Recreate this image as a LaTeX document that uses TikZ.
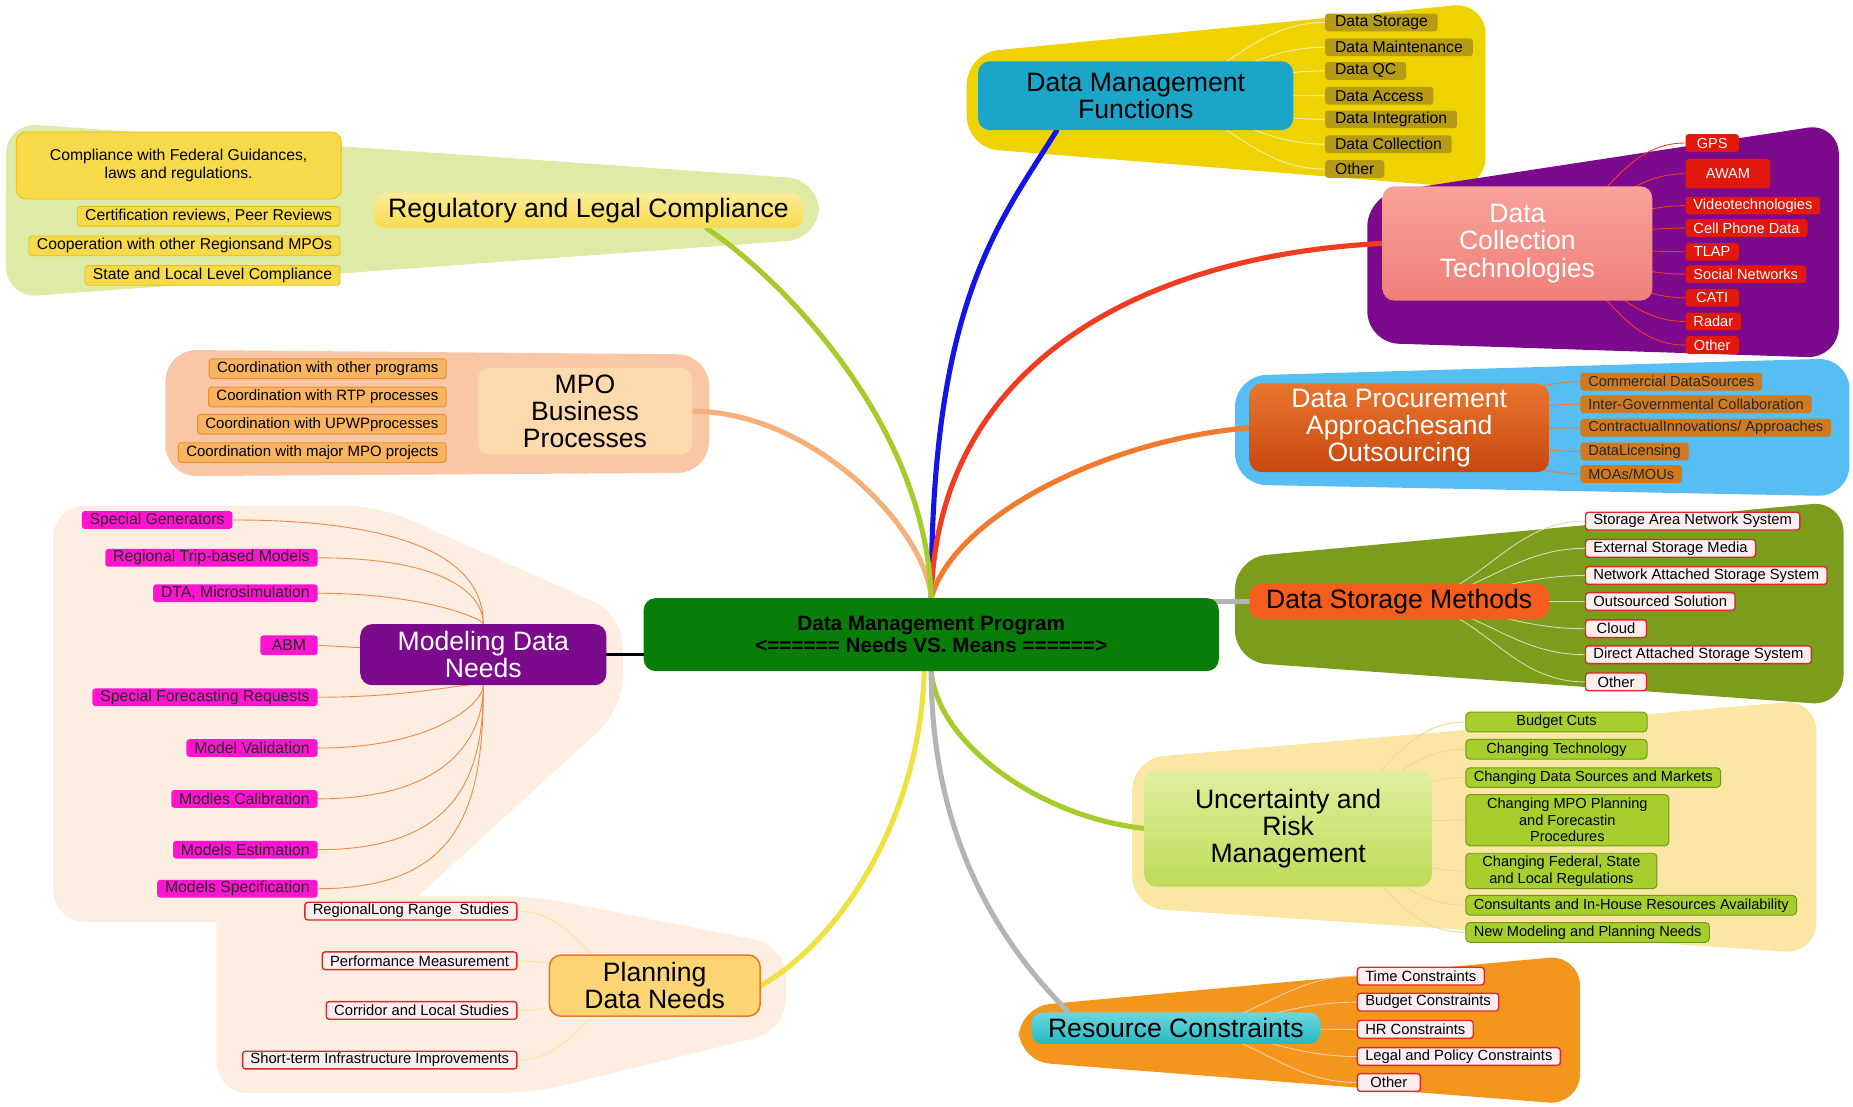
\documentclass[tikz,border=0pt]{standalone}
\usepackage{fontspec}
\setmainfont{Liberation Sans}
\usepackage{xcolor}
\usetikzlibrary{calc}

\definecolor{dmfgold}{HTML}{EFD300}
\definecolor{dmfcyan}{HTML}{1BA5C8}
\definecolor{dmfolive}{HTML}{B69B14}
\definecolor{dmftwig}{HTML}{F6EDB0}
\definecolor{dctpurple}{HTML}{7C0A8C}
\definecolor{dctsalmon}{HTML}{F07F78}
\definecolor{dctsalmontop}{HTML}{F8A29A}
\definecolor{dctred}{HTML}{E2180C}
\definecolor{dpablue}{HTML}{56BEF2}
\definecolor{dpaorange}{HTML}{C9470F}
\definecolor{dpaorangetop}{HTML}{E8762E}
\definecolor{dpabronze}{HTML}{D07A20}
\definecolor{dsmolive}{HTML}{7C9C1C}
\definecolor{dsmorange}{HTML}{F45E1C}
\definecolor{dsmtwig}{HTML}{D6DFB8}
\definecolor{itempink}{HTML}{FCEDEF}
\definecolor{itemred}{HTML}{E32626}
\definecolor{urmpale}{HTML}{FCE6A6}
\definecolor{urmgreen}{HTML}{BEDC58}
\definecolor{urmgreentop}{HTML}{E0EFA0}
\definecolor{urmitem}{HTML}{A6CF2E}
\definecolor{urmedge}{HTML}{6F9A14}
\definecolor{urmtwig}{HTML}{F0D890}
\definecolor{rcorange}{HTML}{F4951C}
\definecolor{rcteal}{HTML}{22B9C4}
\definecolor{rctealtop}{HTML}{6FD6DC}
\definecolor{rctwig}{HTML}{EFD0B0}
\definecolor{rlcgreen}{HTML}{DDEBA6}
\definecolor{rlcyellow}{HTML}{F7DA4A}
\definecolor{rlcyellowtop}{HTML}{FBEC9A}
\definecolor{rlcedge}{HTML}{E6BE10}
\definecolor{mpopeach}{HTML}{F9C6A6}
\definecolor{mpocream}{HTML}{FDD9AE}
\definecolor{mpoitem}{HTML}{F9B462}
\definecolor{mpoedge}{HTML}{EE8E2A}
\definecolor{mdnpale}{HTML}{FDEEE1}
\definecolor{mdnmagenta}{HTML}{FF14CF}
\definecolor{mdntwig}{HTML}{F08848}
\definecolor{pdnyellow}{HTML}{FDD574}
\definecolor{pdnedge}{HTML}{EC7A1E}
\definecolor{pdntwig}{HTML}{F3EB9A}
\definecolor{hubgreen}{HTML}{087E08}
\definecolor{brblue}{HTML}{1414E6}
\definecolor{brred}{HTML}{F23C22}
\definecolor{brorange}{HTML}{F27A2C}
\definecolor{brpeach}{HTML}{F7B07A}
\definecolor{brlime}{HTML}{A8CB2C}
\definecolor{brgrey}{HTML}{B4B4B4}
\definecolor{bryellow}{HTML}{F0E040}

\pgfdeclarelayer{back}
\pgfdeclarelayer{mid}
\pgfsetlayers{back,mid,main}

\tikzset{
    hub-box/.style = {fill=hubgreen, rectangle, rounded corners=6pt, align=center, minimum width=292pt, minimum height=37pt, font=\fontsize{10.5}{11.5}\selectfont\bfseries},
    topic-box/.style = {rectangle, rounded corners=6pt, align=center, inner sep=2pt, font=\fontsize{13.5}{13.8}\selectfont},
    item-box/.style = {rectangle, rounded corners=1.5pt, inner xsep=4pt, inner ysep=0.5pt, minimum height=9pt, align=center, font=\fontsize{7.4}{8.4}\selectfont},
    item-west/.style = {item-box, anchor=west},
    item-east/.style = {item-box, anchor=east},
    dmf-item/.style = {item-west, fill=dmfolive, inner xsep=5pt, font=\fontsize{8}{9}\selectfont},
    dct-item/.style = {item-west, fill=dctred, text=white, minimum width=27pt},
    dpa-item/.style = {item-west, fill=dpabronze, text=black!85},
    white-item/.style = {item-box, fill=itempink, draw=itemred, line width=0.7pt, font=\fontsize{7.5}{8.5}\selectfont},
    urm-item/.style = {item-west, fill=urmitem, draw=urmedge, line width=0.5pt, minimum height=10pt, rounded corners=2pt},
    rlc-item/.style = {item-east, fill=rlcyellow, draw=rlcedge, line width=0.4pt, minimum height=10pt, font=\fontsize{8}{9}\selectfont},
    mpo-item/.style = {item-east, fill=mpoitem, draw=mpoedge, line width=0.5pt, minimum height=10pt, font=\fontsize{7.6}{8.6}\selectfont},
    mdn-item/.style = {item-east, fill=mdnmagenta, text=black!85, font=\fontsize{8}{9}\selectfont},
    branch/.style = {line width=2.6pt, line cap=round},
    twig/.style = {line width=0.45pt, out=0, in=180},
}

\begin{document}
\begin{tikzpicture}[x=0.6pt, y=-0.6pt]
\useasboundingbox (0,0) rectangle (1568,936);

% coloured areas behind each group
\begin{pgfonlayer}{back}
\fill[mdnpale, rounded corners=16pt] (45,428) -- (320,428) -- (527,520) -- (527,600) -- (330,780) -- (45,780) -- cycle;
\fill[mdnpale, rounded corners=16pt] (183,758) -- (450,758) -- (665,800) -- (665,872) -- (450,925) -- (183,925) -- cycle;
\fill[rlcgreen, rounded corners=16pt] (5,104) -- (693,152) -- (693,202) -- (5,252) -- cycle;
\fill[mpopeach, rounded corners=16pt] (140,296) -- (600,300) -- (600,400) -- (140,403) -- cycle;
\fill[dmfgold, rounded corners=16pt] (818,45) -- (1257,2) -- (1257,160) -- (818,125) -- cycle;
\fill[dctpurple, rounded corners=16pt] (1157,165) -- (1556,104) -- (1556,303) -- (1157,290) -- cycle;
\fill[dpablue, rounded corners=16pt] (1045,318) -- (1565,303) -- (1565,420) -- (1045,410) -- cycle;
\fill[urmpale, rounded corners=16pt] (958,642) -- (1537,592) -- (1537,807) -- (958,768) -- cycle;
\fill[dsmolive, rounded corners=16pt] (1045,472) -- (1560,424) -- (1560,597) -- (1045,560) -- cycle;
\fill[rcorange, rounded corners=16pt] (862,852) -- (1337,808) -- (1337,935) -- (862,898) -- cycle;
\end{pgfonlayer}

\node[hub-box] (hub) at (788,537) {Data Management Program\\<====== Needs VS. Means ======>};

% data management functions
\node[topic-box, fill=dmfcyan, minimum width=160pt, minimum height=35pt] (dmf) at (961,81) {Data Management\\Functions};
\node[dmf-item] (dmf-storage) at (1121,19) {Data Storage};
\node[dmf-item] (dmf-maint) at (1121,40) {Data Maintenance};
\node[dmf-item] (dmf-qc) at (1121,60) {Data QC};
\node[dmf-item] (dmf-access) at (1121,81) {Data Access};
\node[dmf-item] (dmf-integr) at (1121,101) {Data Integration};
\node[dmf-item] (dmf-collect) at (1121,122) {Data Collection};
\node[dmf-item] (dmf-other) at (1121,143) {Other};

% data collection technologies
\node[topic-box, top color=dctsalmontop, bottom color=dctsalmon, text=white, minimum width=137pt, minimum height=58pt] (dct) at (1284,206) {Data\\Collection\\Technologies};
\node[dct-item] (dct-gps) at (1426,121) {GPS};
\node[dct-item, minimum width=43pt, minimum height=15pt] (dct-awam) at (1426,147) {AWAM};
\node[dct-item] (dct-video) at (1426,174) {Videotechnologies};
\node[dct-item] (dct-cell) at (1426,193) {Cell Phone Data};
\node[dct-item] (dct-tlap) at (1426,213) {TLAP};
\node[dct-item] (dct-social) at (1426,232) {Social Networks};
\node[dct-item] (dct-cati) at (1426,252) {CATI};
\node[dct-item] (dct-radar) at (1426,272) {Radar};
\node[dct-item] (dct-other) at (1426,292) {Other};

% data procurement
\node[topic-box, top color=dpaorangetop, bottom color=dpaorange, text=white, minimum width=152pt, minimum height=45pt] (dpa) at (1184,362) {Data Procurement\\Approachesand\\Outsourcing};
\node[dpa-item] (dpa-comm) at (1337,323) {Commercial DataSources};
\node[dpa-item] (dpa-inter) at (1337,342) {Inter-Governmental Collaboration};
\node[dpa-item] (dpa-contr) at (1337,362) {ContractualInnovations/ Approaches};
\node[dpa-item] (dpa-lic) at (1337,382) {DataLicensing};
\node[dpa-item] (dpa-moa) at (1337,401) {MOAs/MOUs};

% data storage methods
\node[topic-box, fill=dsmorange, minimum width=152pt, minimum height=18pt] (dsm) at (1184,509) {Data Storage Methods};
\node[white-item, anchor=west] (dsm-san) at (1341,441) {Storage Area Network System};
\node[white-item, anchor=west] (dsm-ext) at (1341,464) {External Storage Media};
\node[white-item, anchor=west] (dsm-nas) at (1341,487) {Network Attached Storage System};
\node[white-item, anchor=west] (dsm-out) at (1341,509) {Outsourced Solution};
\node[white-item, anchor=west, minimum width=31pt] (dsm-cloud) at (1341,532) {Cloud};
\node[white-item, anchor=west] (dsm-das) at (1341,554) {Direct Attached Storage System};
\node[white-item, anchor=west, minimum width=31pt] (dsm-other) at (1341,577) {Other};

% uncertainty and risk
\node[topic-box, top color=urmgreentop, bottom color=urmgreen, minimum width=146pt, minimum height=59pt] (urm) at (1090,701) {Uncertainty and\\Risk\\Management};
\node[urm-item, minimum width=92pt] (urm-budget) at (1240,611) {Budget Cuts};
\node[urm-item, minimum width=92pt] (urm-tech) at (1240,634) {Changing Technology};
\node[urm-item] (urm-sources) at (1240,658) {Changing Data Sources and Markets};
\node[urm-item, minimum width=103pt, minimum height=26pt] (urm-mpo) at (1240,694) {Changing MPO Planning\\and Forecastin\\Procedures};
\node[urm-item, minimum width=97pt, minimum height=18pt] (urm-regs) at (1240,737) {Changing Federal, State\\and Local Regulations};
\node[urm-item] (urm-consult) at (1240,766) {Consultants and In-House Resources Availability};
\node[urm-item] (urm-new) at (1240,789) {New Modeling and Planning Needs};

% resource constraints
\node[topic-box, top color=rctealtop, bottom color=rcteal, minimum width=147pt, minimum height=16pt] (rc) at (995,870) {Resource Constraints};
\node[white-item, anchor=west] (rc-time) at (1148,826) {Time Constraints};
\node[white-item, anchor=west] (rc-budget) at (1148,848) {Budget Constraints};
\node[white-item, anchor=west] (rc-hr) at (1148,871) {HR Constraints};
\node[white-item, anchor=west] (rc-legal) at (1148,894) {Legal and Policy Constraints};
\node[white-item, anchor=west, minimum width=32pt] (rc-other) at (1148,916) {Other};

% regulatory and legal compliance
\node[topic-box, top color=rlcyellowtop, bottom color=rlcyellow, minimum width=218pt, minimum height=18pt] (rlc) at (498,178) {Regulatory and Legal Compliance};
\node[rlc-item, minimum width=165pt, minimum height=34pt, rounded corners=5pt] (rlc-federal) at (289,140) {Compliance with Federal Guidances,\\laws and regulations.};
\node[rlc-item] (rlc-cert) at (288,183) {Certification reviews, Peer Reviews};
\node[rlc-item] (rlc-coop) at (288,208) {Cooperation with other Regionsand MPOs};
\node[rlc-item] (rlc-state) at (288,233) {State and Local Level Compliance};

% mpo business processes
\node[topic-box, fill=mpocream, minimum width=109pt, minimum height=44pt] (mpo) at (495,348) {MPO\\Business\\Processes};
\node[mpo-item] (mpo-prog) at (378,312) {Coordination with other programs};
\node[mpo-item] (mpo-rtp) at (378,336) {Coordination with RTP processes};
\node[mpo-item] (mpo-upwp) at (378,359) {Coordination with UPWPprocesses};
\node[mpo-item] (mpo-major) at (378,383) {Coordination with major MPO projects};

% modeling data needs
\node[topic-box, fill=dctpurple, text=white, minimum width=125pt, minimum height=31pt] (mdn) at (409,554) {Modeling Data\\Needs};
\node[mdn-item] (mdn-gen) at (197,440) {Special Generators};
\node[mdn-item] (mdn-trip) at (269,472) {Regional Trip-based Models};
\node[mdn-item] (mdn-dta) at (269,502) {DTA, Microsimulation};
\node[mdn-item, minimum width=29pt, minimum height=10pt] (mdn-abm) at (269,546) {ABM};
\node[mdn-item] (mdn-fore) at (269,590) {Special Forecasting Requests};
\node[mdn-item] (mdn-valid) at (269,633) {Model Validation};
\node[mdn-item] (mdn-calib) at (269,676) {Modles Calibration};
\node[mdn-item] (mdn-estim) at (269,719) {Models Estimation};
\node[mdn-item] (mdn-spec) at (269,752) {Models Specification};

% planning data needs
\node[topic-box, fill=pdnyellow, draw=pdnedge, line width=0.8pt, minimum width=107pt, minimum height=31pt] (pdn) at (554,834) {Planning\\Data Needs};
\node[white-item, anchor=east] (pdn-long) at (438,771) {RegionalLong Range\ \ Studies};
\node[white-item, anchor=east] (pdn-perf) at (438,813) {Performance Measurement};
\node[white-item, anchor=east] (pdn-corr) at (438,855) {Corridor and Local Studies};
\node[white-item, anchor=east] (pdn-short) at (438,897) {Short-term Infrastructure Improvements};

\begin{pgfonlayer}{mid}
% main branches
\draw[branch, brblue] (hub.north) .. controls +(0,-250) and +(-50,80) .. ($(dmf.south west)!0.25!(dmf.south east)$);
\draw[branch, brred] (hub.north) .. controls +(5,-200) and +(-200,10) .. (dct.west);
\draw[branch, brorange] (hub.north) .. controls +(20,-70) and +(-120,10) .. (dpa.west);
\draw[branch, brpeach] (hub.north) .. controls +(-5,-60) and +(100,0) .. (mpo.east);
\draw[branch, brlime] (hub.north) .. controls +(-5,-150) and +(60,40) .. ($(rlc.south west)!0.775!(rlc.south east)$);
\draw[branch, brgrey] (dsm.center) -- (dsm.center -| hub.center);
\draw[branch, black, line width=1.6pt] (mdn.center) -- (mdn.center -| hub.center);
\draw[branch, brlime] (hub.south) .. controls +(5,60) and +(-90,-10) .. (urm.west);
\draw[branch, brgrey] (hub.south) .. controls +(0,150) and +(-50,-50) .. ($(rc.north west)!0.13!(rc.north east)$);
\draw[branch, bryellow] ($(hub.south)+(-6,0)$) .. controls +(-3,120) and +(70,-40) .. (pdn.east);
% twigs of each group
\draw[twig, dmftwig] (dmf.center) to (dmf-storage.west) (dmf.center) to (dmf-maint.west) (dmf.center) to (dmf-qc.west) (dmf.center) to (dmf-access.west) (dmf.center) to (dmf-integr.west) (dmf.center) to (dmf-collect.west) (dmf.center) to (dmf-other.west);
\draw[twig, brred] (dct.center) to (dct-gps.west) (dct.center) to (dct-awam.west) (dct.center) to (dct-video.west) (dct.center) to (dct-cell.west) (dct.center) to (dct-tlap.west) (dct.center) to (dct-social.west) (dct.center) to (dct-cati.west) (dct.center) to (dct-radar.west) (dct.center) to (dct-other.west);
\draw[twig, brorange] (dpa.center) to (dpa-comm.west) (dpa.center) to (dpa-inter.west) (dpa.center) to (dpa-contr.west) (dpa.center) to (dpa-lic.west) (dpa.center) to (dpa-moa.west);
\draw[twig, dsmtwig] (dsm.center) to (dsm-san.west) (dsm.center) to (dsm-ext.west) (dsm.center) to (dsm-nas.west) (dsm.center) to (dsm-out.west) (dsm.center) to (dsm-cloud.west) (dsm.center) to (dsm-das.west) (dsm.center) to (dsm-other.west);
\draw[twig, urmtwig] (urm.center) to (urm-budget.west) (urm.center) to (urm-tech.west) (urm.center) to (urm-sources.west) (urm.center) to (urm-mpo.west) (urm.center) to (urm-regs.west) (urm.center) to (urm-consult.west) (urm.center) to (urm-new.west);
\draw[twig, rctwig] (rc.center) to (rc-time.west) (rc.center) to (rc-budget.west) (rc.center) to (rc-hr.west) (rc.center) to (rc-legal.west) (rc.center) to (rc-other.west);
\draw[twig, pdntwig] (pdn-long.east) to (pdn.center) (pdn-perf.east) to (pdn.center) (pdn-corr.east) to (pdn.center) (pdn-short.east) to (pdn.center);
\draw[twig, mdntwig] (mdn-gen.east) .. controls +(170,0) and +(0,-70) .. (mdn);
\draw[twig, mdntwig] (mdn-trip.east) .. controls +(110,0) and +(0,-50) .. (mdn);
\draw[twig, mdntwig] (mdn-dta.east) .. controls +(90,0) and +(0,-30) .. (mdn);
\draw[twig, mdntwig] (mdn-abm.east) -- (mdn);
\draw[twig, mdntwig] (mdn-fore.east) .. controls +(90,0) and +(0,20) .. (mdn);
\draw[twig, mdntwig] (mdn-valid.east) .. controls +(100,0) and +(0,40) .. (mdn);
\draw[twig, mdntwig] (mdn-calib.east) .. controls +(110,0) and +(0,70) .. (mdn);
\draw[twig, mdntwig] (mdn-estim.east) .. controls +(120,0) and +(0,100) .. (mdn);
\draw[twig, mdntwig] (mdn-spec.east) .. controls +(120,0) and +(0,130) .. (mdn);
\end{pgfonlayer}
\end{tikzpicture}
\end{document}
